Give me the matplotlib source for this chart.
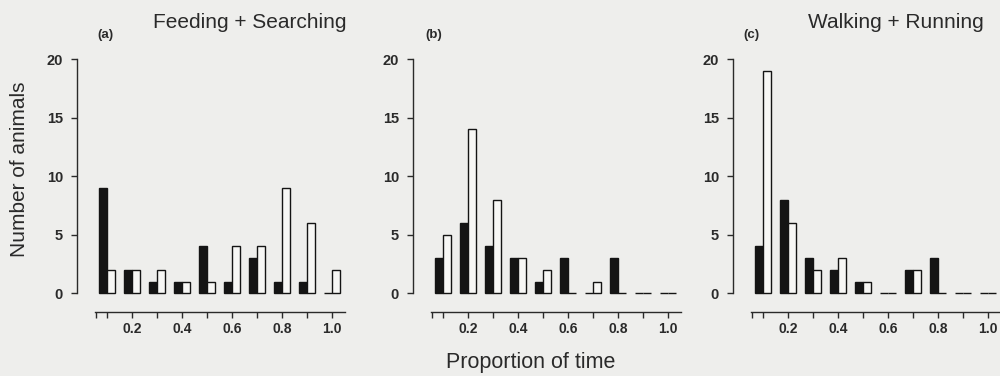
import matplotlib
matplotlib.use("Agg")
import matplotlib.pyplot as plt
import numpy as np

plt.rcParams["font.family"] = ["Liberation Sans", "DejaVu Sans"]

# bin centres (proportion of time)
bins = [0.1, 0.2, 0.3, 0.4, 0.5, 0.6, 0.7, 0.8, 0.9, 1.0]

# (a) Feeding + Searching
a_black = [9, 2, 1, 1, 4, 1, 3, 1, 1, 0]
a_white = [2, 2, 2, 1, 1, 4, 4, 9, 6, 2]
# (b)
b_black = [3, 6, 4, 3, 1, 3, 0, 3, 0, 0]
b_white = [5, 14, 8, 3, 2, 0, 1, 0, 0, 0]
# (c) Walking + Running
c_black = [4, 8, 3, 2, 1, 0, 2, 3, 0, 0]
c_white = [19, 6, 2, 3, 1, 0, 2, 0, 0, 0]

panels = [("(a)", a_black, a_white), ("(b)", b_black, b_white), ("(c)", c_black, c_white)]
yticks = [0, 5, 10, 15, 20]
xlabels = ["0.2", "0.4", "0.6", "0.8", "1.0"]

BG = "#eeeeec"
INK = "#2a2a2a"

fig = plt.figure(figsize=(10, 3.76), dpi=100, facecolor=BG)

lefts = [0.077, 0.413, 0.733]
tag_x = [0.097, 0.425, 0.743]
width = 0.2675
bottom, height = 0.170, 0.673
w = 0.033

for left, tx, (tag, blk, wht) in zip(lefts, tag_x, panels):
    ax = fig.add_axes([left, bottom, width, height], facecolor=BG)
    x = np.array(bins)
    ax.bar(x - w / 2, blk, width=w, color="#141414", edgecolor="#141414", linewidth=1.0)
    ax.bar(x + w / 2, wht, width=w, color="#f7f7f5", edgecolor="#141414", linewidth=1.0)

    ax.set_xlim(-0.02, 1.05)
    ax.set_ylim(-1.6, 20)
    for s in ["top", "right"]:
        ax.spines[s].set_visible(False)
    ax.spines["left"].set_bounds(0, 20)
    ax.spines["bottom"].set_bounds(0.05, 1.05)
    for s in ["left", "bottom"]:
        ax.spines[s].set_color(INK)
        ax.spines[s].set_linewidth(1.0)

    ax.set_yticks(yticks)
    ax.set_yticklabels([str(v) for v in yticks], fontsize=10.5, fontweight="bold", color=INK)
    ax.set_xticks([0.2, 0.4, 0.6, 0.8, 1.0])
    ax.set_xticklabels(xlabels, fontsize=10, fontweight="bold", color=INK)
    ax.set_xticks([0.055, 0.1, 0.3, 0.5, 0.7, 0.9], minor=True)
    ax.tick_params(axis="both", which="both", direction="out", length=4,
                   width=1.0, color=INK)
    ax.tick_params(axis="y", pad=6)

    fig.text(tx, 0.907, tag, fontsize=9.5, fontweight="bold", color=INK, va="center")

fig.text(0.153, 0.941, "Feeding + Searching", fontsize=15, color=INK, va="center")
fig.text(0.808, 0.941, "Walking + Running", fontsize=15, color=INK, va="center")
fig.text(0.02, 0.55, "Number of animals", rotation=90, fontsize=15, color=INK,
         va="center", ha="center")
fig.text(0.531, 0.035, "Proportion of time", fontsize=15.5, color=INK,
         va="center", ha="center")

fig.savefig("out.png", dpi=100, facecolor=BG)
